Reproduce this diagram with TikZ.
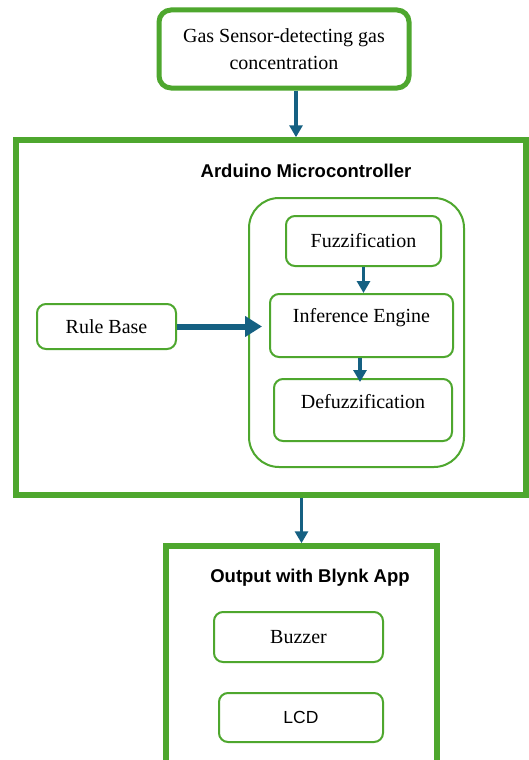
\documentclass[tikz,border=0pt]{standalone}
\usepackage{fontspec}
\setmainfont{Liberation Serif}
\newfontfamily\sansf{Liberation Sans}
\usetikzlibrary{arrows.meta}
\definecolor{gr}{HTML}{4EA72E}
\definecolor{bl}{HTML}{156082}
\begin{document}
\begin{tikzpicture}[x=1pt,y=-1pt,
  box/.style={draw=gr, line width=2pt, rounded corners=9pt, inner sep=0pt, font=\fontsize{20}{24}\selectfont},
  bigbox/.style={draw=gr, line width=5.5pt, inner sep=0pt},
  title/.style={font=\sansf\bfseries\fontsize{18.5}{22}\selectfont, inner sep=0pt},
  txt/.style={font=\fontsize{20}{24}\selectfont, inner sep=0pt},
  arr/.style={draw=bl, line width=3.5pt, -{Triangle[length=12pt,width=13pt]}},
  thickarr/.style={draw=bl, line width=6pt, -{Triangle[length=17pt,width=20pt]}}]
\useasboundingbox (0,0) rectangle (529,760);
\clip (0,0) rectangle (529,760);
\fill[white] (0,0) rectangle (529,760);
% top box
\node[draw=gr, line width=5pt, rounded corners=12pt, minimum width=250pt, minimum height=78pt, align=center, inner sep=0pt,
      font=\fontsize{20}{27}\selectfont] (gas) at (284,49) {Gas Sensor-detecting gas\\concentration};
% Arduino box
\node[bigbox, minimum width=510pt, minimum height=355pt] (ard) at (271,317.5) {};
\node[title] (ardt) at (306,171) {Arduino Microcontroller};
% inner container
\node[draw=gr, line width=2pt, rounded corners=30pt, minimum width=215pt, minimum height=269pt] (fz) at (356.5,332.5) {};
\node[box, minimum width=155pt, minimum height=50pt] (fuzz) at (363.5,241) {Fuzzification};
\node[box, minimum width=183pt, minimum height=63pt] (inf) at (361.5,325.5) {};
\node[txt] (inft) at (361.5,318) {Inference Engine};
\node[box, minimum width=178pt, minimum height=62pt] (def) at (363,410) {};
\node[txt] (deft) at (363,402) {Defuzzification};
\node[box, minimum width=139pt, minimum height=45pt] (rule) at (106.5,326.5) {Rule Base};
% output box
\node[bigbox, minimum width=271pt, minimum height=254pt] (out) at (301.5,673) {};
\node[title] (outt) at (310,578) {Output with Blynk App};
\node[box, minimum width=169pt, minimum height=50pt] (buz) at (298.5,637) {Buzzer};
\node[box, minimum width=164pt, minimum height=49pt, font=\sansf\fontsize{17.5}{21}\selectfont] (lcd) at (301,717.5) {LCD};
% arrows
\draw[arr] ([xshift=12pt]gas.south) -- ([xshift=12pt]gas.south |- ard.north);
\draw[arr] (fuzz.south) -- (fuzz.south |- inf.north);
\draw[arr] ([xshift=-1.5pt]inf.south) -- ([xshift=-1.5pt,yshift=-4pt]inf.south |- def.north);
\draw[thickarr] (rule.east) -- ([xshift=-7pt]rule.east -| inf.west);
\draw[arr] (ard.south -| out.north) -- (out.north);
\end{tikzpicture}
\end{document}
